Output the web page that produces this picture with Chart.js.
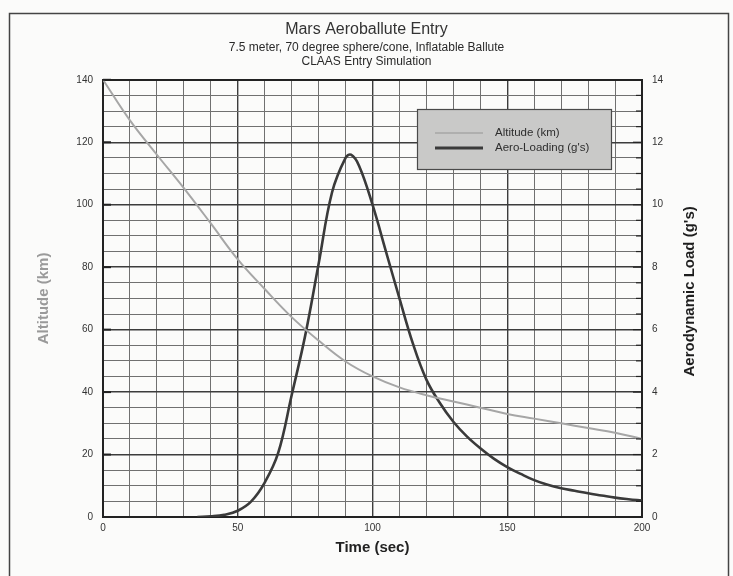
<!DOCTYPE html>
<html>
<head>
<meta charset="utf-8">
<script src="https://cdn.jsdelivr.net/npm/chart.js@4"></script>
<style>
html,body{margin:0;padding:0;background:#fbfbfa;}
#wrap{width:733px;height:576px;position:relative;}
</style>
</head>
<body>
<div id="wrap"><canvas id="c" width="733" height="576"></canvas></div>
<script>
// ---- data ----
const timeAlt = [0,10,20,30,40,50,60,70,80,90,100,110,120,130,140,150,160,170,180,190,200];
const altitude = [140,127,116,105.3,94,82.5,73,64,56.5,49.8,45,41.5,39,37,35,33,31.5,30,28.5,27,25];

const timeLoad = [35,40,45,50,55,60,65,70,75,80,85,90,92,95,100,105,110,115,120,125,130,135,140,145,150,155,160,165,170,175,180,185,190,195,200];
const aeroLoad = [0,0.02,0.07,0.2,0.5,1.1,2.05,3.9,5.8,8.1,10.4,11.5,11.6,11.25,10.0,8.5,7.0,5.55,4.4,3.65,3.05,2.58,2.2,1.87,1.6,1.38,1.18,1.03,0.92,0.84,0.76,0.69,0.62,0.57,0.53];

const xTickLabels = [0,50,100,150,200];
const altTickLabels = [0,20,40,60,80,100,120,140];
const loadTickLabels = [0,2,4,6,8,10,12,14];

const titleText = 'Mars Aeroballute Entry';
const subtitleLines = ['7.5 meter, 70 degree sphere/cone, Inflatable Ballute','CLAAS Entry Simulation'];
const seriesLabels = ['Altitude (km)', "Aero-Loading (g's)"];
const xTitle = 'Time (sec)';
const leftTitle = 'Altitude (km)';
const rightTitle = "Aerodynamic Load (g's)";

const FONT = "'Liberation Sans', Arial, Helvetica, sans-serif";

const altPts = timeAlt.map((t,i)=>({x:t,y:altitude[i]}));
const loadPts = timeLoad.map((t,i)=>({x:t,y:aeroLoad[i]}));

function gridColor(isMajor, isEdge){ return isEdge ? '#222' : (isMajor ? '#3c3c3c' : '#707070'); }

const framePlugin = {
  id:'frame',
  beforeDraw(chart){
    const ctx = chart.ctx;
    ctx.save();
    ctx.fillStyle = '#fbfbfa';
    ctx.fillRect(0,0,chart.width,chart.height);
    ctx.strokeStyle = '#444';
    ctx.lineWidth = 1.5;
    ctx.strokeRect(9.5,13.5,719,620);
    ctx.restore();
  }
};

const extrasPlugin = {
  id:'extras',
  afterDraw(chart){
    const ctx = chart.ctx;
    const a = chart.chartArea;
    const y = chart.scales.y, y1 = chart.scales.y1;
    ctx.save();
    ctx.strokeStyle = '#222';
    ctx.lineWidth = 2;
    altTickLabels.forEach(v=>{
      const py = y.getPixelForValue(v);
      ctx.beginPath(); ctx.moveTo(a.left, py); ctx.lineTo(a.left+8, py); ctx.stroke();
    });
    ctx.lineWidth = 1.2;
    for (let v=0; v<=14; v+=0.5){
      const py = y1.getPixelForValue(v);
      ctx.beginPath(); ctx.moveTo(a.right-(v%2===0?9:6), py); ctx.lineTo(a.right, py); ctx.stroke();
    }
    ctx.fillStyle = '#1e1e1e';
    ctx.font = "bold 15px " + FONT;
    ctx.textAlign = 'center';
    ctx.textBaseline = 'middle';
    ctx.translate(690, (a.top+a.bottom)/2 - 7);
    ctx.rotate(-Math.PI/2);
    ctx.fillText(rightTitle, 0, 0);
    ctx.restore();

    ctx.save();
    const bx = 417, by = 109, bw = 194, bh = 60;
    ctx.fillStyle = '#c9c9c8';
    ctx.fillRect(bx, by, bw, bh);
    ctx.strokeStyle = '#4a4a4a';
    ctx.lineWidth = 1.2;
    ctx.strokeRect(bx+0.5, by+0.5, bw, bh);
    const ds = chart.data.datasets;
    const rows = [133, 148];
    ds.forEach((d,i)=>{
      ctx.strokeStyle = d.borderColor;
      ctx.lineWidth = i===0 ? 1.6 : 3;
      ctx.beginPath(); ctx.moveTo(435, rows[i]); ctx.lineTo(483, rows[i]); ctx.stroke();
      ctx.fillStyle = '#2e2e2e';
      ctx.font = "11.5px " + FONT;
      ctx.textAlign = 'left';
      ctx.textBaseline = 'middle';
      ctx.fillText(d.label, 495, rows[i]);
    });
    ctx.restore();
  }
};

new Chart(document.getElementById('c'), {
  type:'line',
  data:{
    datasets:[
      {label:seriesLabels[0], data:altPts, yAxisID:'y', borderColor:'#a6a6a6', borderWidth:2, pointRadius:0, tension:0.4, fill:false},
      {label:seriesLabels[1], data:loadPts, yAxisID:'y1', borderColor:'#3a3a3a', borderWidth:2.6, pointRadius:0, tension:0.4, fill:false}
    ]
  },
  options:{
    responsive:false,
    animation:false,
    layout:{padding:{left:0,right:0,top:0,bottom:0}},
    plugins:{
      legend:{display:false},
      tooltip:{enabled:false},
      title:{display:true, text:titleText, color:'#333', font:{family:FONT, size:16, weight:'normal', lineHeight:1.2}, padding:{top:20, bottom:0}},
      subtitle:{display:true, text:subtitleLines, color:'#2a2a2a', font:{family:FONT, size:12, weight:'normal', lineHeight:1.15}, padding:{top:2, bottom:11}}
    },
    scales:{
      x:{
        type:'linear', min:0, max:200,
        afterFit(s){ s.height = 59; },
        ticks:{stepSize:10, autoSkip:false, maxRotation:0, padding:5, color:'#333', font:{family:FONT, size:10},
          callback:(v)=> xTickLabels.includes(v) ? String(v) : ''},
        grid:{drawTicks:false,
          color:(c)=> gridColor(c.tick && c.tick.value%50===0, c.tick && (c.tick.value===0||c.tick.value===200)),
          lineWidth:(c)=> (c.tick && (c.tick.value===0||c.tick.value===200)) ? 2 : (c.tick && c.tick.value%50===0 ? 1.4 : 1)},
        border:{display:true, color:'#222', width:2},
        title:{display:true, text:xTitle, color:'#222', font:{family:FONT, size:15, weight:'bold'}, padding:{top:0,bottom:19}}
      },
      y:{
        type:'linear', position:'left', min:0, max:140,
        afterFit(s){ s.width = 103; },
        ticks:{stepSize:5, autoSkip:false, padding:10, color:'#333', font:{family:FONT, size:10},
          callback:(v)=> altTickLabels.includes(v) ? String(v) : ''},
        grid:{drawTicks:false,
          color:(c)=> gridColor(c.tick && c.tick.value%20===0, c.tick && (c.tick.value===0||c.tick.value===140)),
          lineWidth:(c)=> (c.tick && (c.tick.value===0||c.tick.value===140)) ? 2 : (c.tick && c.tick.value%20===0 ? 1.4 : 1)},
        border:{display:true, color:'#222', width:2},
        title:{display:true, text:leftTitle, color:'#9a9a9a', font:{family:FONT, size:15, weight:'bold'}, padding:{top:35,bottom:0}}
      },
      y1:{
        type:'linear', position:'right', min:0, max:14,
        afterFit(s){ s.width = 91; },
        ticks:{stepSize:0.5, autoSkip:false, padding:10, color:'#333', font:{family:FONT, size:10},
          callback:(v)=> loadTickLabels.includes(v) ? String(v) : ''},
        grid:{drawOnChartArea:false, drawTicks:false},
        border:{display:true, color:'#222', width:2}
      }
    }
  },
  plugins:[framePlugin, extrasPlugin]
});
</script>
</body>
</html>
